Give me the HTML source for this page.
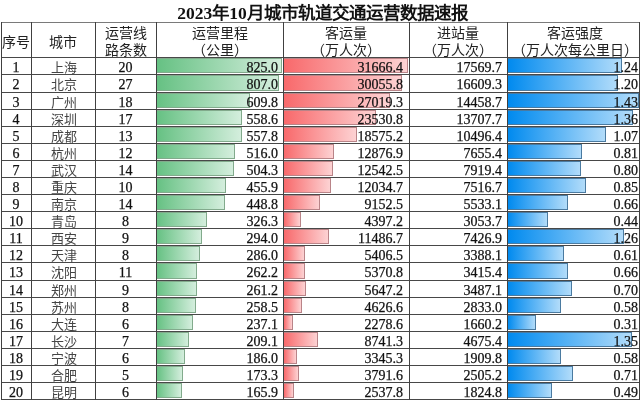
<!DOCTYPE html><html lang="zh-CN"><head><meta charset="utf-8"><style>
*{margin:0;padding:0;box-sizing:border-box}
html,body{width:641px;height:400px;overflow:hidden;background:#fff}
body{position:relative;font-family:"Liberation Serif",serif;color:#111}
.a{position:absolute}
.h{position:absolute;height:1px;background:#484848}
.v{position:absolute;width:1px;background:#404040}
.t{position:absolute;will-change:transform;-webkit-text-stroke:0.25px #111;font-size:14px;line-height:17px;white-space:nowrap;margin-top:1.5px}
.cj{font-size:13px;margin-top:1.5px;-webkit-text-stroke:0;margin-left:1px}
.c{text-align:center}
.r{text-align:right}
.hd{position:absolute;will-change:transform;font-size:14px;line-height:17px;text-align:center;white-space:nowrap;color:#222}
.title{position:absolute;will-change:transform;left:2px;width:641px;top:2px;text-align:center;font-weight:bold;font-size:17.5px;line-height:22px;color:#111}
.bg{position:absolute;border:1px solid #82aa8c;background:linear-gradient(to right,#66C183,#d4eedd)}
.br{position:absolute;border:1px solid #b98488;background:linear-gradient(to right,#F8696B,#fdd2d3)}
.bb{position:absolute;border:1px solid #4a7aa0;background:linear-gradient(to right,#008AEF,#b2dcfa)}
</style></head><body>
<div class="title">2023年10月城市轨道交通运营数据速报</div>
<div class="bg" style="left:156px;top:58px;width:126.1px;height:15px"></div>
<div class="br" style="left:283px;top:58px;width:125.2px;height:15px"></div>
<div class="bb" style="left:507px;top:58px;width:114.7px;height:15px"></div>
<div class="bg" style="left:156px;top:75px;width:123.4px;height:16px"></div>
<div class="br" style="left:283px;top:75px;width:118.9px;height:16px"></div>
<div class="bb" style="left:507px;top:75px;width:111.0px;height:16px"></div>
<div class="bg" style="left:156px;top:93px;width:93.5px;height:15px"></div>
<div class="br" style="left:283px;top:93px;width:107.0px;height:15px"></div>
<div class="bb" style="left:507px;top:93px;width:132.2px;height:15px"></div>
<div class="bg" style="left:156px;top:110px;width:85.7px;height:15px"></div>
<div class="br" style="left:283px;top:110px;width:93.3px;height:15px"></div>
<div class="bb" style="left:507px;top:110px;width:125.7px;height:15px"></div>
<div class="bg" style="left:156px;top:127px;width:85.6px;height:15px"></div>
<div class="br" style="left:283px;top:127px;width:73.8px;height:15px"></div>
<div class="bb" style="left:507px;top:127px;width:99.0px;height:15px"></div>
<div class="bg" style="left:156px;top:144px;width:79.3px;height:15px"></div>
<div class="br" style="left:283px;top:144px;width:51.4px;height:15px"></div>
<div class="bb" style="left:507px;top:144px;width:74.9px;height:15px"></div>
<div class="bg" style="left:156px;top:161px;width:77.5px;height:15px"></div>
<div class="br" style="left:283px;top:161px;width:50.1px;height:15px"></div>
<div class="bb" style="left:507px;top:161px;width:74.0px;height:15px"></div>
<div class="bg" style="left:156px;top:178px;width:70.1px;height:15px"></div>
<div class="br" style="left:283px;top:178px;width:48.1px;height:15px"></div>
<div class="bb" style="left:507px;top:178px;width:78.6px;height:15px"></div>
<div class="bg" style="left:156px;top:195px;width:69.1px;height:15px"></div>
<div class="br" style="left:283px;top:195px;width:36.8px;height:15px"></div>
<div class="bb" style="left:507px;top:195px;width:61.1px;height:15px"></div>
<div class="bg" style="left:156px;top:212px;width:50.5px;height:15px"></div>
<div class="br" style="left:283px;top:212px;width:18.2px;height:15px"></div>
<div class="bb" style="left:507px;top:212px;width:40.8px;height:15px"></div>
<div class="bg" style="left:156px;top:229px;width:45.6px;height:15px"></div>
<div class="br" style="left:283px;top:229px;width:46.0px;height:15px"></div>
<div class="bb" style="left:507px;top:229px;width:116.5px;height:15px"></div>
<div class="bg" style="left:156px;top:246px;width:44.4px;height:15px"></div>
<div class="br" style="left:283px;top:246px;width:22.1px;height:15px"></div>
<div class="bb" style="left:507px;top:246px;width:56.5px;height:15px"></div>
<div class="bg" style="left:156px;top:263px;width:40.7px;height:16px"></div>
<div class="br" style="left:283px;top:263px;width:22.0px;height:16px"></div>
<div class="bb" style="left:507px;top:263px;width:61.1px;height:16px"></div>
<div class="bg" style="left:156px;top:281px;width:40.6px;height:15px"></div>
<div class="br" style="left:283px;top:281px;width:23.1px;height:15px"></div>
<div class="bb" style="left:507px;top:281px;width:64.8px;height:15px"></div>
<div class="bg" style="left:156px;top:298px;width:40.2px;height:15px"></div>
<div class="br" style="left:283px;top:298px;width:19.1px;height:15px"></div>
<div class="bb" style="left:507px;top:298px;width:53.7px;height:15px"></div>
<div class="bg" style="left:156px;top:315px;width:36.9px;height:15px"></div>
<div class="br" style="left:283px;top:315px;width:9.8px;height:15px"></div>
<div class="bb" style="left:507px;top:315px;width:28.8px;height:15px"></div>
<div class="bg" style="left:156px;top:332px;width:32.7px;height:15px"></div>
<div class="br" style="left:283px;top:332px;width:35.2px;height:15px"></div>
<div class="bb" style="left:507px;top:332px;width:124.8px;height:15px"></div>
<div class="bg" style="left:156px;top:349px;width:29.2px;height:15px"></div>
<div class="br" style="left:283px;top:349px;width:14.0px;height:15px"></div>
<div class="bb" style="left:507px;top:349px;width:53.7px;height:15px"></div>
<div class="bg" style="left:156px;top:366px;width:27.3px;height:15px"></div>
<div class="br" style="left:283px;top:366px;width:15.8px;height:15px"></div>
<div class="bb" style="left:507px;top:366px;width:65.7px;height:15px"></div>
<div class="bg" style="left:156px;top:383px;width:26.1px;height:15px"></div>
<div class="br" style="left:283px;top:383px;width:10.9px;height:15px"></div>
<div class="bb" style="left:507px;top:383px;width:45.4px;height:15px"></div>
<div class="h" style="left:1px;top:22px;width:639px;background:#7a7a7a"></div>
<div class="h" style="left:1px;top:57px;width:639px"></div>
<div class="h" style="left:1px;top:74px;width:639px"></div>
<div class="h" style="left:1px;top:92px;width:639px"></div>
<div class="h" style="left:1px;top:109px;width:639px"></div>
<div class="h" style="left:1px;top:126px;width:639px"></div>
<div class="h" style="left:1px;top:143px;width:639px"></div>
<div class="h" style="left:1px;top:160px;width:639px"></div>
<div class="h" style="left:1px;top:177px;width:639px"></div>
<div class="h" style="left:1px;top:194px;width:639px"></div>
<div class="h" style="left:1px;top:211px;width:639px"></div>
<div class="h" style="left:1px;top:228px;width:639px"></div>
<div class="h" style="left:1px;top:245px;width:639px"></div>
<div class="h" style="left:1px;top:262px;width:639px"></div>
<div class="h" style="left:1px;top:280px;width:639px"></div>
<div class="h" style="left:1px;top:297px;width:639px"></div>
<div class="h" style="left:1px;top:314px;width:639px"></div>
<div class="h" style="left:1px;top:331px;width:639px"></div>
<div class="h" style="left:1px;top:348px;width:639px"></div>
<div class="h" style="left:1px;top:365px;width:639px"></div>
<div class="h" style="left:1px;top:382px;width:639px"></div>
<div class="h" style="left:1px;top:399px;width:639px"></div>
<div class="v" style="left:1px;top:22px;height:378px"></div>
<div class="v" style="left:31px;top:22px;height:378px"></div>
<div class="v" style="left:95px;top:22px;height:378px"></div>
<div class="v" style="left:156px;top:22px;height:378px"></div>
<div class="v" style="left:283px;top:22px;height:378px"></div>
<div class="v" style="left:409px;top:22px;height:378px"></div>
<div class="v" style="left:507px;top:22px;height:378px"></div>
<div class="v" style="left:639px;top:22px;height:378px"></div>
<div class="hd" style="left:1px;width:30px;top:33.5px">序号</div>
<div class="hd" style="left:31px;width:64px;top:33.5px">城市</div>
<div class="hd" style="left:95px;width:61px;top:25px">运营线<br>路条数</div>
<div class="hd" style="left:156px;width:127px;top:25px">运营里程<br>（公里）</div>
<div class="hd" style="left:283px;width:126px;top:25px">客运量<br>（万人次）</div>
<div class="hd" style="left:409px;width:98px;top:25px">进站量<br>（万人次）</div>
<div class="hd" style="left:509px;width:132px;top:25px">客运强度<br>（万人次每公里日）</div>
<div class="t c" style="left:1px;width:30px;top:57px;">1</div>
<div class="t c cj" style="left:31px;width:64px;top:57px;color:#444">上海</div>
<div class="t c" style="left:95px;width:61px;top:57px;">20</div>
<div class="t r" style="left:156px;width:122px;top:57px;">825.0</div>
<div class="t r" style="left:283px;width:120px;top:57px;">31666.4</div>
<div class="t r" style="left:409px;width:93px;top:57px;">17569.7</div>
<div class="t r" style="left:507px;width:131px;top:57px;">1.24</div>
<div class="t c" style="left:1px;width:30px;top:74px;">2</div>
<div class="t c cj" style="left:31px;width:64px;top:74px;color:#444">北京</div>
<div class="t c" style="left:95px;width:61px;top:74px;">27</div>
<div class="t r" style="left:156px;width:122px;top:74px;">807.0</div>
<div class="t r" style="left:283px;width:120px;top:74px;">30055.8</div>
<div class="t r" style="left:409px;width:93px;top:74px;">16609.3</div>
<div class="t r" style="left:507px;width:131px;top:74px;">1.20</div>
<div class="t c" style="left:1px;width:30px;top:92px;">3</div>
<div class="t c cj" style="left:31px;width:64px;top:92px;color:#444">广州</div>
<div class="t c" style="left:95px;width:61px;top:92px;">18</div>
<div class="t r" style="left:156px;width:122px;top:92px;">609.8</div>
<div class="t r" style="left:283px;width:120px;top:92px;">27019.3</div>
<div class="t r" style="left:409px;width:93px;top:92px;">14458.7</div>
<div class="t r" style="left:507px;width:131px;top:92px;">1.43</div>
<div class="t c" style="left:1px;width:30px;top:109px;">4</div>
<div class="t c cj" style="left:31px;width:64px;top:109px;color:#444">深圳</div>
<div class="t c" style="left:95px;width:61px;top:109px;">17</div>
<div class="t r" style="left:156px;width:122px;top:109px;">558.6</div>
<div class="t r" style="left:283px;width:120px;top:109px;">23530.8</div>
<div class="t r" style="left:409px;width:93px;top:109px;">13707.7</div>
<div class="t r" style="left:507px;width:131px;top:109px;">1.36</div>
<div class="t c" style="left:1px;width:30px;top:126px;">5</div>
<div class="t c cj" style="left:31px;width:64px;top:126px;color:#444">成都</div>
<div class="t c" style="left:95px;width:61px;top:126px;">13</div>
<div class="t r" style="left:156px;width:122px;top:126px;">557.8</div>
<div class="t r" style="left:283px;width:120px;top:126px;">18575.2</div>
<div class="t r" style="left:409px;width:93px;top:126px;">10496.4</div>
<div class="t r" style="left:507px;width:131px;top:126px;">1.07</div>
<div class="t c" style="left:1px;width:30px;top:143px;">6</div>
<div class="t c cj" style="left:31px;width:64px;top:143px;color:#444">杭州</div>
<div class="t c" style="left:95px;width:61px;top:143px;">12</div>
<div class="t r" style="left:156px;width:122px;top:143px;">516.0</div>
<div class="t r" style="left:283px;width:120px;top:143px;">12876.9</div>
<div class="t r" style="left:409px;width:93px;top:143px;">7655.4</div>
<div class="t r" style="left:507px;width:131px;top:143px;">0.81</div>
<div class="t c" style="left:1px;width:30px;top:160px;">7</div>
<div class="t c cj" style="left:31px;width:64px;top:160px;color:#444">武汉</div>
<div class="t c" style="left:95px;width:61px;top:160px;">14</div>
<div class="t r" style="left:156px;width:122px;top:160px;">504.3</div>
<div class="t r" style="left:283px;width:120px;top:160px;">12542.5</div>
<div class="t r" style="left:409px;width:93px;top:160px;">7919.4</div>
<div class="t r" style="left:507px;width:131px;top:160px;">0.80</div>
<div class="t c" style="left:1px;width:30px;top:177px;">8</div>
<div class="t c cj" style="left:31px;width:64px;top:177px;color:#444">重庆</div>
<div class="t c" style="left:95px;width:61px;top:177px;">10</div>
<div class="t r" style="left:156px;width:122px;top:177px;">455.9</div>
<div class="t r" style="left:283px;width:120px;top:177px;">12034.7</div>
<div class="t r" style="left:409px;width:93px;top:177px;">7516.7</div>
<div class="t r" style="left:507px;width:131px;top:177px;">0.85</div>
<div class="t c" style="left:1px;width:30px;top:194px;">9</div>
<div class="t c cj" style="left:31px;width:64px;top:194px;color:#444">南京</div>
<div class="t c" style="left:95px;width:61px;top:194px;">14</div>
<div class="t r" style="left:156px;width:122px;top:194px;">448.8</div>
<div class="t r" style="left:283px;width:120px;top:194px;">9152.5</div>
<div class="t r" style="left:409px;width:93px;top:194px;">5533.1</div>
<div class="t r" style="left:507px;width:131px;top:194px;">0.66</div>
<div class="t c" style="left:1px;width:30px;top:211px;">10</div>
<div class="t c cj" style="left:31px;width:64px;top:211px;color:#444">青岛</div>
<div class="t c" style="left:95px;width:61px;top:211px;">8</div>
<div class="t r" style="left:156px;width:122px;top:211px;">326.3</div>
<div class="t r" style="left:283px;width:120px;top:211px;">4397.2</div>
<div class="t r" style="left:409px;width:93px;top:211px;">3053.7</div>
<div class="t r" style="left:507px;width:131px;top:211px;">0.44</div>
<div class="t c" style="left:1px;width:30px;top:228px;">11</div>
<div class="t c cj" style="left:31px;width:64px;top:228px;color:#444">西安</div>
<div class="t c" style="left:95px;width:61px;top:228px;">9</div>
<div class="t r" style="left:156px;width:122px;top:228px;">294.0</div>
<div class="t r" style="left:283px;width:120px;top:228px;">11486.7</div>
<div class="t r" style="left:409px;width:93px;top:228px;">7426.9</div>
<div class="t r" style="left:507px;width:131px;top:228px;">1.26</div>
<div class="t c" style="left:1px;width:30px;top:245px;">12</div>
<div class="t c cj" style="left:31px;width:64px;top:245px;color:#444">天津</div>
<div class="t c" style="left:95px;width:61px;top:245px;">8</div>
<div class="t r" style="left:156px;width:122px;top:245px;">286.0</div>
<div class="t r" style="left:283px;width:120px;top:245px;">5406.5</div>
<div class="t r" style="left:409px;width:93px;top:245px;">3388.1</div>
<div class="t r" style="left:507px;width:131px;top:245px;">0.61</div>
<div class="t c" style="left:1px;width:30px;top:262px;">13</div>
<div class="t c cj" style="left:31px;width:64px;top:262px;color:#444">沈阳</div>
<div class="t c" style="left:95px;width:61px;top:262px;">11</div>
<div class="t r" style="left:156px;width:122px;top:262px;">262.2</div>
<div class="t r" style="left:283px;width:120px;top:262px;">5370.8</div>
<div class="t r" style="left:409px;width:93px;top:262px;">3415.4</div>
<div class="t r" style="left:507px;width:131px;top:262px;">0.66</div>
<div class="t c" style="left:1px;width:30px;top:280px;">14</div>
<div class="t c cj" style="left:31px;width:64px;top:280px;color:#444">郑州</div>
<div class="t c" style="left:95px;width:61px;top:280px;">9</div>
<div class="t r" style="left:156px;width:122px;top:280px;">261.2</div>
<div class="t r" style="left:283px;width:120px;top:280px;">5647.2</div>
<div class="t r" style="left:409px;width:93px;top:280px;">3487.1</div>
<div class="t r" style="left:507px;width:131px;top:280px;">0.70</div>
<div class="t c" style="left:1px;width:30px;top:297px;">15</div>
<div class="t c cj" style="left:31px;width:64px;top:297px;color:#444">苏州</div>
<div class="t c" style="left:95px;width:61px;top:297px;">8</div>
<div class="t r" style="left:156px;width:122px;top:297px;">258.5</div>
<div class="t r" style="left:283px;width:120px;top:297px;">4626.6</div>
<div class="t r" style="left:409px;width:93px;top:297px;">2833.0</div>
<div class="t r" style="left:507px;width:131px;top:297px;">0.58</div>
<div class="t c" style="left:1px;width:30px;top:314px;">16</div>
<div class="t c cj" style="left:31px;width:64px;top:314px;color:#444">大连</div>
<div class="t c" style="left:95px;width:61px;top:314px;">6</div>
<div class="t r" style="left:156px;width:122px;top:314px;">237.1</div>
<div class="t r" style="left:283px;width:120px;top:314px;">2278.6</div>
<div class="t r" style="left:409px;width:93px;top:314px;">1660.2</div>
<div class="t r" style="left:507px;width:131px;top:314px;">0.31</div>
<div class="t c" style="left:1px;width:30px;top:331px;">17</div>
<div class="t c cj" style="left:31px;width:64px;top:331px;color:#444">长沙</div>
<div class="t c" style="left:95px;width:61px;top:331px;">7</div>
<div class="t r" style="left:156px;width:122px;top:331px;">209.1</div>
<div class="t r" style="left:283px;width:120px;top:331px;">8741.3</div>
<div class="t r" style="left:409px;width:93px;top:331px;">4675.4</div>
<div class="t r" style="left:507px;width:131px;top:331px;">1.35</div>
<div class="t c" style="left:1px;width:30px;top:348px;">18</div>
<div class="t c cj" style="left:31px;width:64px;top:348px;color:#444">宁波</div>
<div class="t c" style="left:95px;width:61px;top:348px;">6</div>
<div class="t r" style="left:156px;width:122px;top:348px;">186.0</div>
<div class="t r" style="left:283px;width:120px;top:348px;">3345.3</div>
<div class="t r" style="left:409px;width:93px;top:348px;">1909.8</div>
<div class="t r" style="left:507px;width:131px;top:348px;">0.58</div>
<div class="t c" style="left:1px;width:30px;top:365px;">19</div>
<div class="t c cj" style="left:31px;width:64px;top:365px;color:#444">合肥</div>
<div class="t c" style="left:95px;width:61px;top:365px;">5</div>
<div class="t r" style="left:156px;width:122px;top:365px;">173.3</div>
<div class="t r" style="left:283px;width:120px;top:365px;">3791.6</div>
<div class="t r" style="left:409px;width:93px;top:365px;">2505.2</div>
<div class="t r" style="left:507px;width:131px;top:365px;">0.71</div>
<div class="t c" style="left:1px;width:30px;top:382px;">20</div>
<div class="t c cj" style="left:31px;width:64px;top:382px;color:#444">昆明</div>
<div class="t c" style="left:95px;width:61px;top:382px;">6</div>
<div class="t r" style="left:156px;width:122px;top:382px;">165.9</div>
<div class="t r" style="left:283px;width:120px;top:382px;">2537.8</div>
<div class="t r" style="left:409px;width:93px;top:382px;">1824.8</div>
<div class="t r" style="left:507px;width:131px;top:382px;">0.49</div>
</body></html>
